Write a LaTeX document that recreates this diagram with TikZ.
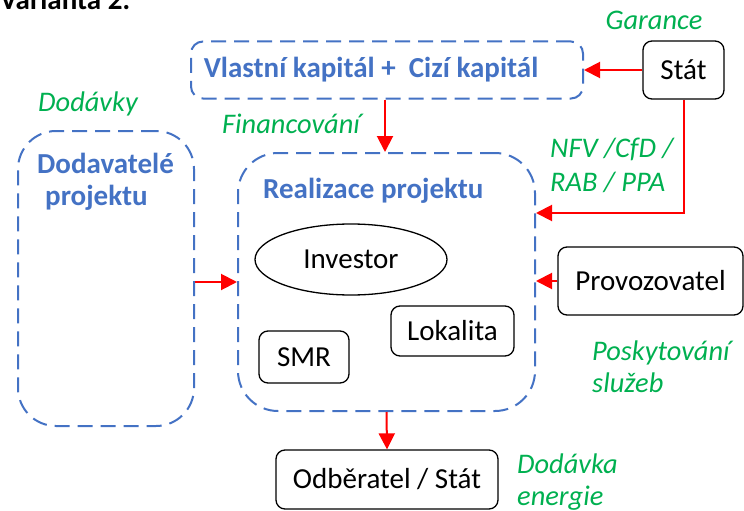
\documentclass[tikz,border=0pt]{standalone}
\usepackage{fontspec}
\setmainfont{Carlito}
\usetikzlibrary{arrows.meta,shapes.geometric,calc}
\definecolor{cblue}{HTML}{4472C4}
\definecolor{cgreen}{HTML}{00B050}
\definecolor{cred}{HTML}{FF0000}
\tikzset{
  bluebox/.style={draw=cblue, line width=2pt, dash pattern=on 15pt off 8pt, inner sep=0pt},
  blackbox/.style={draw=black, line width=1.3pt, rounded corners=9pt, inner sep=0pt, font=\fontsize{29}{33}\selectfont},
  bluetxt/.style={text=cblue, font=\bfseries\fontsize{29}{33}\selectfont, inner sep=0pt},
  greentxt/.style={text=cgreen, font=\itshape\fontsize{28.4}{32}\selectfont, inner sep=0pt},
  redarrow/.style={draw=cred, line width=2pt, -{Triangle[length=16pt,width=16pt]}},
}
\begin{document}
\begin{tikzpicture}[x=1pt,y=-1pt]
\useasboundingbox (0,0) rectangle (744,511);
\clip (0,0) rectangle (744,511);
% title (cut off at top)
\node[anchor=base west, inner sep=0pt, font=\bfseries\fontsize{29}{33}\selectfont] (title) at (0,10) {Varianta 2:};
% boxes
\node[bluebox, rounded corners=12pt, minimum width=392pt, minimum height=57pt] (vk) at (387,70) {};
\node[bluetxt] (vktext) at (371,70) {Vlastní kapitál +\ \ Cizí kapitál};
\node[blackbox, minimum width=81pt, minimum height=58pt] (stat) at (683.5,70) {Stát};
\node[bluebox, rounded corners=40pt, minimum width=297pt, minimum height=258pt] (real) at (386.5,282) {};
\node[bluetxt, anchor=base west] (realtext) at (263,198) {Realizace projektu};
\node[bluebox, rounded corners=38pt, minimum width=176pt, minimum height=295pt] (dod) at (106,278.5) {};
\node[bluetxt, anchor=base west] (dodtext1) at (37,173) {Dodavatelé};
\node[bluetxt, anchor=base west] (dodtext2) at (45,205) {projektu};
\node[draw=black, line width=1.3pt, ellipse, minimum width=192pt, minimum height=71pt, inner sep=0pt, font=\fontsize{29}{33}\selectfont] (inv) at (351,259.5) {Investor};
\node[blackbox, minimum width=185pt, minimum height=68pt] (prov) at (650.5,281) {Provozovatel};
\node[blackbox, minimum width=90pt, minimum height=52pt] (smr) at (304,357) {SMR};
\node[blackbox, minimum width=123pt, minimum height=50pt] (lok) at (452.5,331) {Lokalita};
\node[blackbox, minimum width=222pt, minimum height=59pt] (odb) at (387,479.5) {Odběratel / Stát};
% green labels
\node[greentxt, anchor=base] (gar) at (654,30) {Garance};
\node[greentxt, anchor=base] (dodavky) at (88,111) {Dodávky};
\node[greentxt, anchor=base west] (fin) at (222,133) {Financování};
\node[greentxt, anchor=base west] (nfv1) at (550,157) {NFV /CfD /};
\node[greentxt, anchor=base west] (nfv2) at (550,191) {RAB / PPA};
\node[greentxt, anchor=base west] (pos1) at (592,360) {Poskytování};
\node[greentxt, anchor=base west] (pos2) at (592,392) {služeb};
\node[greentxt, anchor=base west] (de1) at (517,473) {Dodávka};
\node[greentxt, anchor=base west] (de2) at (517,505) {energie};
% arrows
\draw[redarrow] (stat.west) -- (vk.east);
\draw[redarrow] ($(vk.south)+(-2,0)$) -- ($(vk.south |- real.north)+(-2,0)$);
\draw[redarrow] (stat.south) |- ($(real.east)+(0,-69)$);
\draw[redarrow] (dod.east |- real.west) -- (real.west);
\draw[redarrow] (prov.west) -- (real.east |- prov.west);
\draw[redarrow] (real.south) -- (odb.north);
\end{tikzpicture}
\end{document}
